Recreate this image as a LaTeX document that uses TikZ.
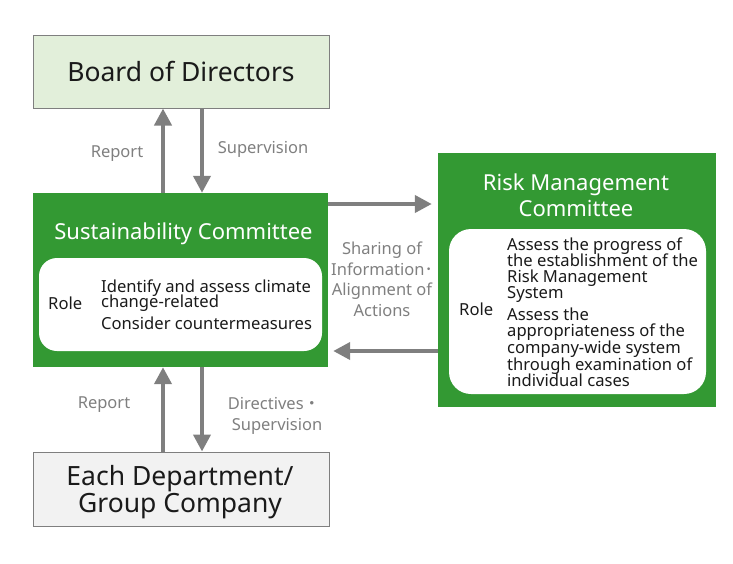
\documentclass[tikz,border=0pt]{standalone}
\usepackage{fontspec}
\setmainfont{Noto Sans}
\newfontfamily\cjk{Noto Sans CJK JP}
\usetikzlibrary{arrows.meta}
\definecolor{grn}{RGB}{51,153,51}
\definecolor{boardfill}{RGB}{226,239,218}
\definecolor{deptfill}{RGB}{242,242,242}
\definecolor{gry}{RGB}{127,127,127}
\definecolor{ink}{RGB}{26,26,26}
\begin{document}
\begin{tikzpicture}[x=1pt,y=-1pt,
  box/.style={draw=gry, line width=1pt, inner sep=0},
  gbox/.style={fill=grn, draw=none, inner sep=0},
  wbox/.style={fill=white, draw=none, rounded corners=18pt, inner sep=0},
  big/.style={font=\fontsize{26.5}{25}\selectfont, text=ink},
  ttl/.style={font=\fontsize{22}{26}\selectfont, text=white, inner sep=0, anchor=base},
  body/.style={font=\fontsize{16.6}{16.6}\selectfont, text=ink, inner sep=0, anchor=base west},
  lbl/.style={font=\fontsize{16.5}{20.5}\selectfont, text=gry, inner sep=0, anchor=base},
  arr/.style={draw=gry, line width=4pt, -{Triangle[width=17pt,length=17pt]}},
]
\useasboundingbox (0,0) rectangle (733,563);

% boxes
\node[box, fill=boardfill, minimum width=296pt, minimum height=73pt, big] (board) at (181,71.5) {Board of Directors};
\node[box, fill=deptfill, minimum width=296pt, minimum height=74pt] (dept) at (181,489) {};
\node[big, inner sep=0, align=center] (depttext) at (180,492) {Each Department/\\Group Company};

\node[gbox, minimum width=295pt, minimum height=174pt] (sust) at (180.5,280) {};
\node[ttl] (susttitle) at (183.5,239) {Sustainability Committee};
\node[wbox, minimum width=283pt, minimum height=93pt] (sustrole) at (180.5,304.5) {};
\node[body] (sustlbl) at (48,309) {Role};
\node[body] (s1) at (101,292) {Identify and assess climate};
\node[body] (s2) at (101,307.5) {change-related};
\node[body] (s3) at (101,329) {Consider countermeasures};

\node[gbox, minimum width=278pt, minimum height=254pt] (risk) at (577,280) {};
\node[ttl] (risktitle1) at (576,190.5) {Risk Management};
\node[ttl] (risktitle2) at (576,216.5) {Committee};
\node[wbox, rounded corners=22pt, minimum width=257pt, minimum height=165pt] (riskrole) at (577.5,311.5) {};
\node[body] (risklbl) at (459,315.5) {Role};
\node[body] (r1) at (507,250) {Assess the progress of};
\node[body] (r2) at (507,266.5) {the establishment of the};
\node[body] (r3) at (507,282) {Risk Management};
\node[body] (r4) at (507,298.5) {System};
\node[body] (r5) at (507,320) {Assess the};
\node[body] (r6) at (507,336.5) {appropriateness of the};
\node[body] (r7) at (507,353) {company-wide system};
\node[body] (r8) at (507,370) {through examination of};
\node[body] (r9) at (507,386.5) {individual cases};

% labels
\node[lbl] (rep1) at (117,157) {Report};
\node[lbl] (sup1) at (263,153) {Supervision};
\node[lbl] (rep2) at (104,408) {Report};
\node[lbl] (dir) at (274,409) {Directives{\cjk ・}};
\node[lbl] (sup2) at (277,430) {Supervision};
\node[lbl, anchor=center, align=center] (share) at (382,279.5) {Sharing of\\Information{\cjk ･}\\Alignment of\\Actions};

% connectors
\coordinate (cL) at (163,0);
\coordinate (cR) at (202,0);
\coordinate (hT) at (0,204);
\coordinate (hB) at (0,351);
\draw[arr] (sust.north -| cL) -- (board.south -| cL);
\draw[arr] (board.south -| cR) -- (sust.north -| cR);
\draw[arr] (dept.north -| cL) -- (sust.south -| cL);
\draw[arr] (sust.south -| cR) -- (dept.north -| cR);
\draw[arr, shorten >=6pt] (sust.east |- hT) -- (risk.west |- hT);
\draw[arr, shorten >=5pt] (risk.west |- hB) -- (sust.east |- hB);
\end{tikzpicture}
\end{document}
